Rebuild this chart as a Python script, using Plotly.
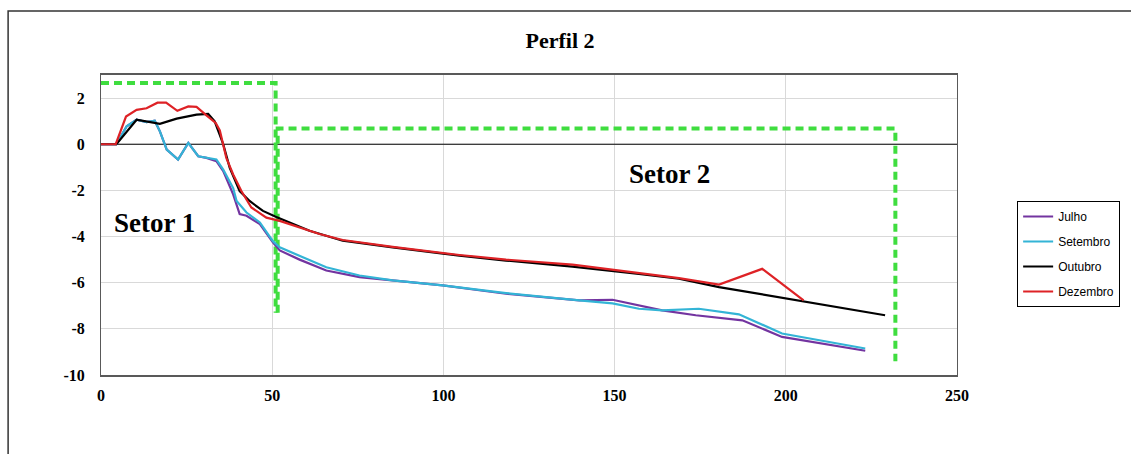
import plotly.graph_objects as go

# ---- data ----
julho_x = [0, 4.5, 7.5, 10.4, 13.3, 15.7, 17.2, 19.2, 22.5, 25.5, 28.4, 30.8, 33.7, 35.7, 38.6, 40.5, 42.5, 46.4,
           50.2, 52.2, 58, 65.8, 75.5, 85.2, 99.8, 118.3, 139.7, 149.4, 157.1, 163.9, 173.7, 187.3, 198.9, 223.2]
julho_y = [0, 0, 0.78, 1.06, 0.96, 1.02, 0.56, -0.23, -0.66, 0.06, -0.52, -0.59, -0.73, -1.16, -2.17, -3.03, -3.1, -3.46,
           -4.25, -4.6, -5.0, -5.47, -5.76, -5.9, -6.12, -6.48, -6.77, -6.74, -6.98, -7.2, -7.41, -7.63, -8.35, -8.95]

setembro_x = [0, 4.5, 7.5, 10.4, 13.3, 15.7, 17.2, 19.2, 22.5, 25.5, 28.4, 30.8, 33.7, 35.7, 38.6, 39.6, 42.5, 46.4,
              50.2, 52.2, 58, 65.8, 75.5, 85.2, 99.8, 118.3, 139.7, 149.4, 157.1, 163.9, 174.6, 186.3, 198.9, 223.2]
setembro_y = [0, 0, 0.78, 1.06, 0.96, 1.02, 0.56, -0.23, -0.66, 0.06, -0.52, -0.59, -0.66, -1.1, -1.9, -2.46, -2.96, -3.39,
              -4.2, -4.47, -4.85, -5.33, -5.69, -5.9, -6.12, -6.45, -6.77, -6.9, -7.13, -7.2, -7.13, -7.37, -8.2, -8.85]

outubro_x = [0, 4.5, 10.4, 13.8, 17.2, 22.1, 27.9, 31.3, 33.2, 35.7, 37.6, 40.5, 43.4, 47.3, 51.2, 60.9, 70.6,
             85.2, 104.7, 118.3, 137.7, 157.1, 168.8, 180.5, 205.2, 229]
outubro_y = [0, 0, 1.06, 0.96, 0.88, 1.11, 1.28, 1.31, 0.99, 0, -1.02, -2.03, -2.46, -2.89, -3.15, -3.75, -4.18,
             -4.47, -4.83, -5.04, -5.3, -5.62, -5.83, -6.19, -6.8, -7.41]

dezembro_x = [0, 4.3, 7.3, 10.4, 13.3, 16.5, 19, 22.3, 25.5, 27.9, 30.8, 33.5, 34.7, 36.6, 38.6, 41, 43.9, 48.3,
              52.2, 58, 63.8, 70.6, 85.2, 104.7, 118.3, 137.7, 157.1, 168.8, 180.5, 193.1, 205.2]
dezembro_y = [0, 0, 1.2, 1.49, 1.56, 1.8, 1.8, 1.45, 1.64, 1.62, 1.25, 0.92, 0.6, -0.59, -1.31, -2.03, -2.74, -3.18,
              -3.32, -3.6, -3.89, -4.15, -4.45, -4.8, -5.0, -5.22, -5.58, -5.8, -6.08, -5.4, -6.77]

# sector outlines (green dashed)
setor1_x = [0, 51.0, 51.0]
setor1_y = [2.65, 2.65, -7.3]
setor2_x = [51.6, 51.6, 232, 232]
setor2_y = [-7.3, 0.68, 0.68, -9.4]

x_ticks = [0, 50, 100, 150, 200, 250]
y_ticks = [-10, -8, -6, -4, -2, 0, 2]
y_tick_labels = ["-10", "-8", "-6", "-4", "-2", "0", "2"]

series = [
    ("Julho", julho_x, julho_y, "#7334A0"),
    ("Setembro", setembro_x, setembro_y, "#33B4D6"),
    ("Outubro", outubro_x, outubro_y, "#000000"),
    ("Dezembro", dezembro_x, dezembro_y, "#DE2226"),
]

fig = go.Figure()

# zero line
fig.add_trace(go.Scatter(x=[0, 250], y=[0, 0], mode="lines", line=dict(color="#000000", width=1),
                         showlegend=False, hoverinfo="skip"))

green = "#3FDD3F"
fig.add_trace(go.Scatter(x=setor1_x, y=setor1_y, mode="lines",
                         line=dict(color=green, width=4, dash="8px,5px"), showlegend=False, hoverinfo="skip"))
fig.add_trace(go.Scatter(x=setor2_x, y=setor2_y, mode="lines",
                         line=dict(color=green, width=4, dash="8px,5px"), showlegend=False, hoverinfo="skip"))

for i, (name, xs, ys, col) in enumerate(series):
    fig.add_trace(go.Scatter(x=xs, y=ys, mode="lines", name=name, legendgroup=f"g{i}",
                             line=dict(color=col, width=2.2)))

serif = "Liberation Serif, Times New Roman, serif"

fig.update_layout(
    width=1131, height=454,
    margin=dict(l=101, r=173, t=75, b=79),
    paper_bgcolor="white", plot_bgcolor="white",
    title=dict(text="<b>Perfil 2</b>", x=560 / 1131, xanchor="center",
               y=1 - 40 / 454, yanchor="middle", font=dict(family=serif, size=22, color="#000")),
    showlegend=True,
    legend=dict(x=1.069, y=0.58, xanchor="left", yanchor="top", bordercolor="#000", borderwidth=1,
                font=dict(family="Liberation Sans, Arial, sans-serif", size=12, color="#000"),
                tracegroupgap=6, itemwidth=30, bgcolor="white"),
    xaxis=dict(range=[0, 250], tickvals=x_ticks, showgrid=True, gridcolor="#D9D9D9", gridwidth=1,
               showline=True, linecolor="#595959", linewidth=2, mirror=True, zeroline=False,
               tickfont=dict(family=serif, size=16, color="#000", weight="bold"), ticks="",
               ticklabelstandoff=5),
    yaxis=dict(range=[-10, 3], tickvals=y_ticks, ticktext=y_tick_labels, showgrid=True,
               gridcolor="#D9D9D9", gridwidth=1,
               showline=True, linecolor="#595959", linewidth=1, mirror=True, zeroline=False,
               tickfont=dict(family=serif, size=16, color="#000", weight="bold"), ticks="",
               ticklabelstandoff=12),
    annotations=[
        dict(text="<b>Setor 1</b>", x=15.7, y=-3.4, xref="x", yref="y", showarrow=False,
             font=dict(family=serif, size=27, color="#000")),
        dict(text="<b>Setor 2</b>", x=166, y=-1.3, xref="x", yref="y", showarrow=False,
             font=dict(family=serif, size=27, color="#000")),
    ],
    shapes=[
        dict(type="rect", xref="paper", yref="paper",
             x0=(8 - 101) / 857, x1=(1140 - 101) / 857,
             y0=(375 - 470) / 300, y1=(375 - 11) / 300,
             line=dict(color="#333333", width=1.5), fillcolor="rgba(0,0,0,0)", layer="below"),
    ],
)

fig.write_html("out.html")
